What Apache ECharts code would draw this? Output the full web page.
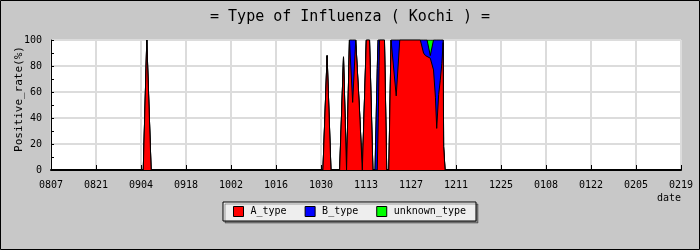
<!DOCTYPE html>
<html>
<head>
<meta charset="utf-8">
<script src="https://cdn.jsdelivr.net/npm/echarts@6/dist/echarts.min.js"></script>
<style>
html,body{margin:0;padding:0;background:#c8c8c8;}
#c{width:700px;height:250px;}
</style>
</head>
<body>
<div id="c"></div>
<script>
// x positions in days since 0807
const days        = [0, 28.7, 29.8, 31.15, 84.6, 85.9, 87.1, 89.8, 91.0, 91.95, 92.05, 92.85, 93.85, 94.8, 95.9, 96.85, 96.95, 98.1, 99.1, 100.15, 100.8, 101.5, 101.75, 102.2, 103.75, 104.45, 105.1, 105.8, 106.3, 107.4, 108.5, 114.9, 115.9, 116.5, 117.0, 118.0, 119.0, 119.6, 120.0, 120.6, 121.1, 121.6, 122.0, 122.15, 122.6, 196];
const aType       = [0, 0, 100, 0, 0, 88, 0, 0, 87, 0, 0, 100, 52, 100, 50, 0, 0, 100, 100, 0, 0, 0, 30, 100, 100, 0, 0, 100, 100, 57, 100, 100, 90, 88, 88, 86, 77, 56, 32, 58, 69, 82, 98, 18, 0, 0];
const bType       = [0, 0, 0, 0, 0, 0, 0, 0, 0, 0, 0, 0, 48, 0, 0, 0, 0, 0, 0, 0, 0, 78, 70, 0, 0, 0, 0, 0, 0, 43, 0, 0, 10, 12, 12, 2, 23, 44, 68, 42, 31, 18, 2, 0, 0, 0];
const unknownType = [0, 0, 0, 0, 0, 0, 0, 0, 0, 0, 0, 0, 0, 0, 0, 0, 0, 0, 0, 0, 0, 0, 0, 0, 0, 0, 0, 0, 0, 0, 0, 0, 0, 0, 0, 12, 0, 0, 0, 0, 0, 0, 0, 0, 0, 0];
const tickLabels  = ['0807','0821','0904','0918','1002','1016','1030','1113','1127','1211','1225','0108','0122','0205','0219'];
const seriesNames = ['A_type','B_type','unknown_type'];
const seriesColors = ['#ff0000','#0000ff','#00ff00'];

const FONT = 'DejaVu Sans Mono';
const chart = echarts.init(document.getElementById('c'));

// cumulative (stacked) tops
const vals = [aType, bType, unknownType];
const cum = vals.map((_, i) => days.map((d, k) => {
  let s = 0; for (let j = 0; j <= i; j++) s += vals[j][k]; return [d, s];
}));

chart.setOption({
  backgroundColor: '#c8c8c8',
  animation: false,
  title: {
    text: '= Type of Influenza ( Kochi ) =',
    left: 'center', top: 5,
    textStyle: {fontFamily: FONT, fontSize: 15, fontWeight: 'normal', color: '#000'}
  },
  graphic: [
    {type: 'rect', shape: {x: 0.5, y: 0.5, width: 699, height: 249}, style: {fill: 'none', stroke: '#000', lineWidth: 1}, silent: true},
    {type: 'text', x: 19, y: 99, rotation: Math.PI / 2,
     style: {text: 'Positive_rate(%)', font: '11px "DejaVu Sans Mono"', fill: '#000', align: 'center', verticalAlign: 'middle'}}
  ],
  legend: {
    left: 223, top: 202,
    orient: 'horizontal',
    itemWidth: 10, itemHeight: 10, itemGap: 18,
    icon: 'rect',
    padding: [4, 10, 4, 10],
    backgroundColor: '#eeeeee',
    borderColor: '#000', borderWidth: 1,
    shadowColor: 'rgba(0,0,0,0.35)', shadowOffsetX: 2, shadowOffsetY: 2, shadowBlur: 0,
    textStyle: {fontFamily: FONT, fontSize: 10, color: '#000', padding: [0, 0, 0, 2]},
    data: seriesNames.map((n, i) => ({name: n, icon: 'rect', itemStyle: {color: seriesColors[i], borderColor: '#000', borderWidth: 1}}))
  },
  grid: {left: 51, top: 40, right: 19, bottom: 80, show: true, backgroundColor: '#fff', borderWidth: 0},
  xAxis: {
    type: 'value', min: 0, max: 196, interval: 14,
    name: 'date', nameLocation: 'end', nameGap: 0,
    nameTextStyle: {fontFamily: FONT, fontSize: 10, color: '#000', align: 'right', verticalAlign: 'top', padding: [23, 0, 0, 0]},
    axisLine: {show: true, onZero: false, lineStyle: {color: '#000', width: 2}},
    axisTick: {show: true, inside: true, length: 5, lineStyle: {color: '#000'}},
    axisLabel: {fontFamily: FONT, fontSize: 10, color: '#000', margin: 10, formatter: v => tickLabels[Math.round(v / 14)]},
    splitLine: {show: true, lineStyle: {color: '#dcdcdc', width: 2}}
  },
  yAxis: {
    type: 'value', min: 0, max: 100, interval: 20,
    axisLine: {show: true, lineStyle: {color: '#000', width: 1}},
    axisTick: {show: true, inside: true, length: 3, lineStyle: {color: '#000'}},
    minorTick: {show: true, splitNumber: 2, length: 3, lineStyle: {color: '#000'}},
    axisLabel: {fontFamily: FONT, fontSize: 10, color: '#000', margin: 9},
    splitLine: {show: true, lineStyle: {color: '#dcdcdc', width: 2}}
  },
  series: seriesNames.map((n, i) => ({
    name: n, type: 'line', symbol: 'none', z: 10 - i,
    itemStyle: {color: seriesColors[i]},
    lineStyle: {color: '#000', width: 1},
    areaStyle: {color: seriesColors[i], opacity: 1, origin: 'start'},
    data: cum[i]
  }))
});
</script>
</body>
</html>
